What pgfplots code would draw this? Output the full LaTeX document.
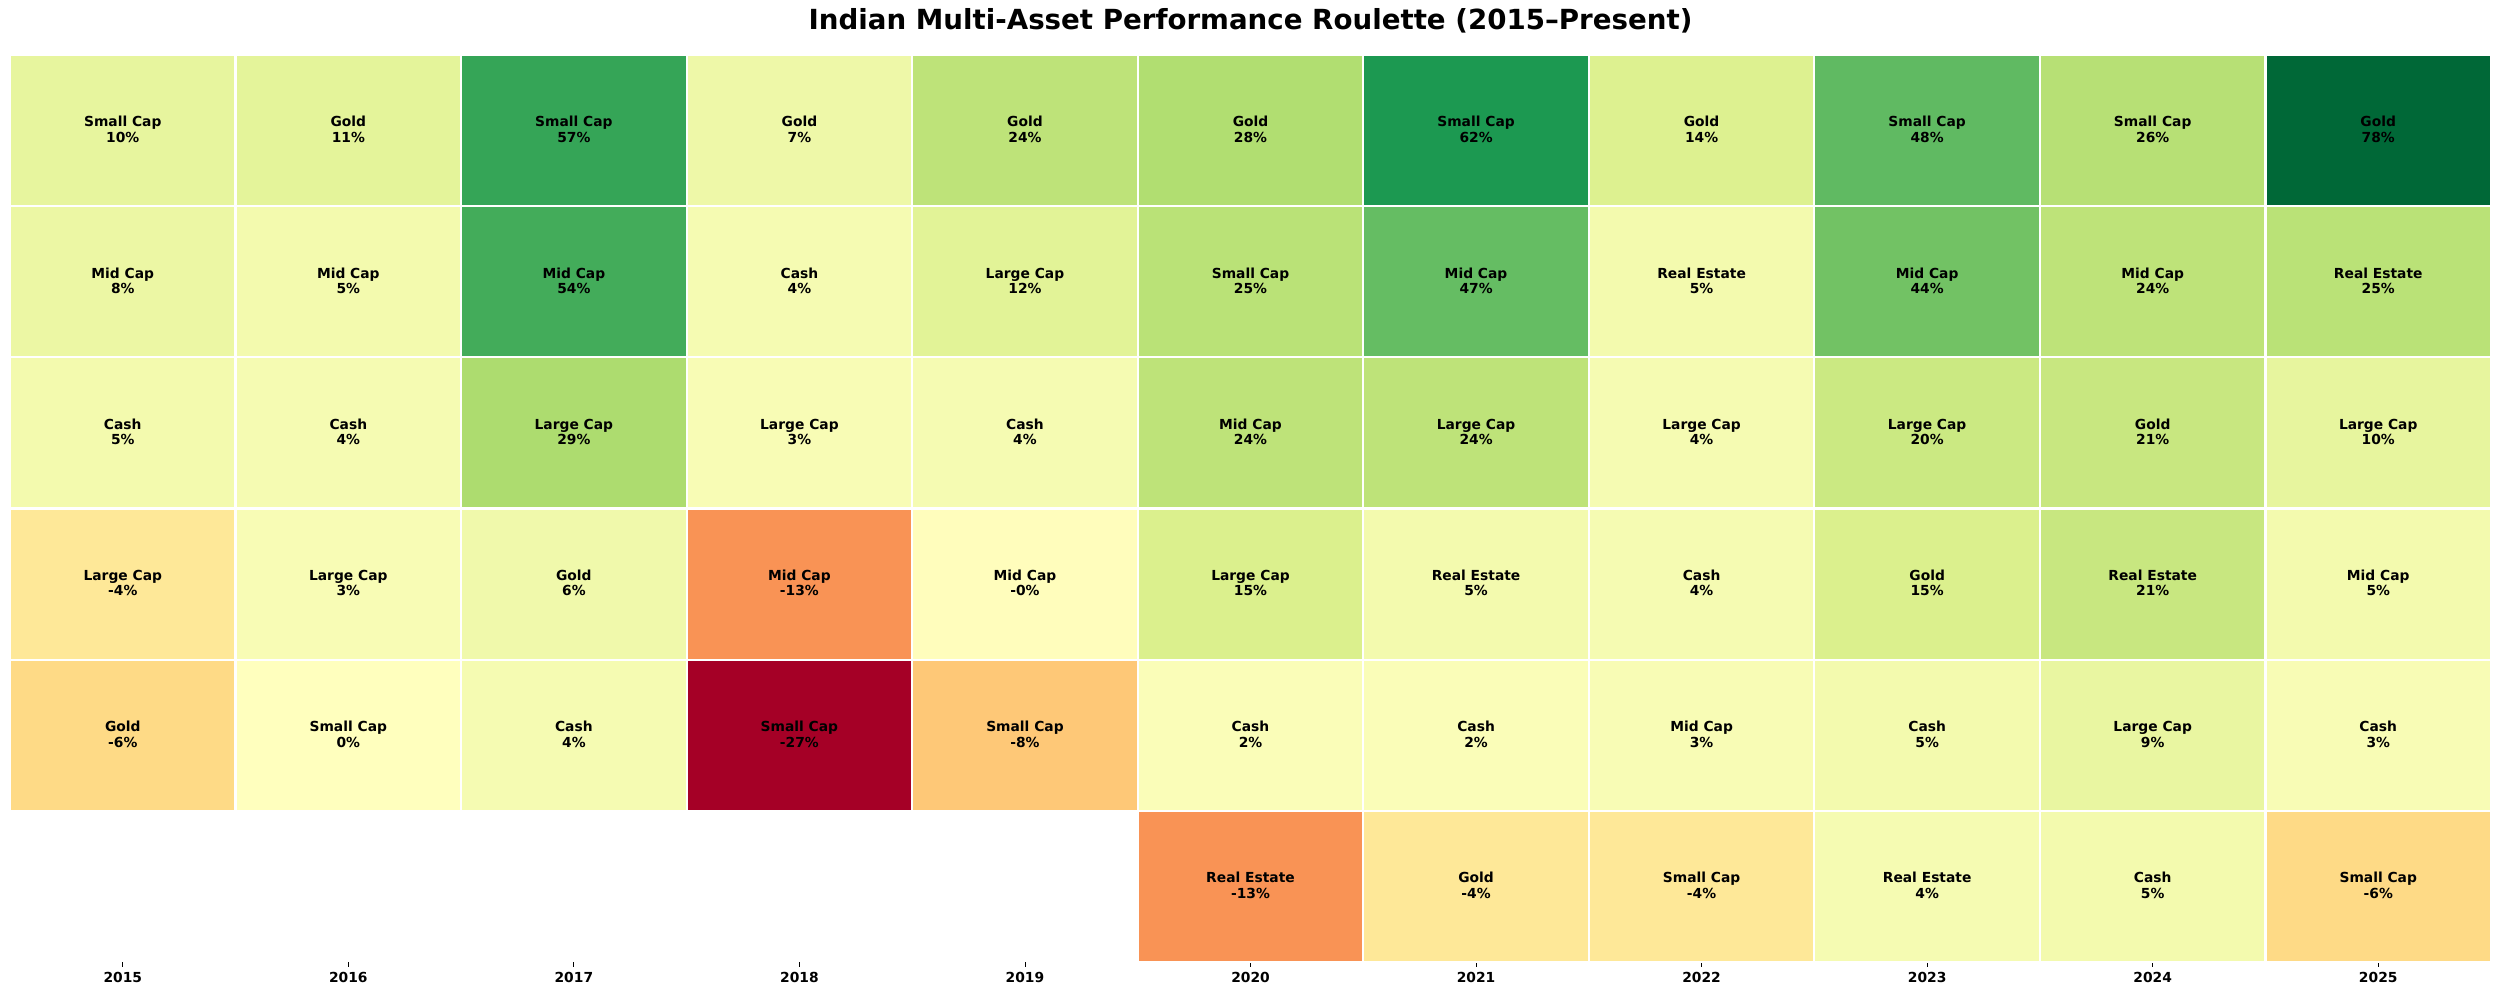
\documentclass[border=0pt]{standalone}
\usepackage{fontspec}
\setmainfont{DejaVu Sans}
\usepackage{pgfplots}
\usepackage{pgfplotstable}
\pgfplotsset{compat=1.18}

\pgfplotsset{
  colormap={rdylgn}{
    rgb255=(165,0,38) rgb255=(215,48,39) rgb255=(244,109,67)
    rgb255=(253,174,97) rgb255=(254,224,139) rgb255=(255,255,191)
    rgb255=(217,239,139) rgb255=(166,217,106) rgb255=(102,189,99)
    rgb255=(26,152,80) rgb255=(0,104,55)}
}

% 2015-2019: five assets ranked per year (x = year index, y = rank)
\pgfplotstableread{
x  y  name          lab  v
0  0  {Small Cap}   10   10
0  1  {Mid Cap}     8    8
0  2  {Cash}        5    5
0  3  {Large Cap}   -4   -4
0  4  {Gold}        -6   -6
1  0  {Gold}        11   11
1  1  {Mid Cap}     5    5
1  2  {Cash}        4    4
1  3  {Large Cap}   3    3
1  4  {Small Cap}   0    0.2
2  0  {Small Cap}   57   57
2  1  {Mid Cap}     54   54
2  2  {Large Cap}   29   29
2  3  {Gold}        6    6
2  4  {Cash}        4    4
3  0  {Gold}        7    7
3  1  {Cash}        4    4
3  2  {Large Cap}   3    3
3  3  {Mid Cap}     -13  -13
3  4  {Small Cap}   -27  -27
4  0  {Gold}        24   24
4  1  {Large Cap}   12   12
4  2  {Cash}        4    4
4  3  {Mid Cap}     -0   -0.3
4  4  {Small Cap}   -8   -8
}\early

% 2020-2025: six assets (Real Estate added)
\pgfplotstableread{
x  y  name          lab  v
5  0  {Gold}        28   28
5  1  {Small Cap}   25   25
5  2  {Mid Cap}     24   24
5  3  {Large Cap}   15   15
5  4  {Cash}        2    2
5  5  {Real Estate} -13  -13
6  0  {Small Cap}   62   62
6  1  {Mid Cap}     47   47
6  2  {Large Cap}   24   24
6  3  {Real Estate} 5    5
6  4  {Cash}        2    2
6  5  {Gold}        -4   -4
7  0  {Gold}        14   14
7  1  {Real Estate} 5    5
7  2  {Large Cap}   4    4
7  3  {Cash}        4    4
7  4  {Mid Cap}     3    3
7  5  {Small Cap}   -4   -4
8  0  {Small Cap}   48   48
8  1  {Mid Cap}     44   44
8  2  {Large Cap}   20   20
8  3  {Gold}        15   15
8  4  {Cash}        5    5
8  5  {Real Estate} 4    4
9  0  {Small Cap}   26   26
9  1  {Mid Cap}     24   24
9  2  {Gold}        21   21
9  3  {Real Estate} 21   21
9  4  {Large Cap}   9    9
9  5  {Cash}        5    5
10 0  {Gold}        78   78
10 1  {Real Estate} 25   25
10 2  {Large Cap}   10   10
10 3  {Mid Cap}     5    5
10 4  {Cash}        3    3
10 5  {Small Cap}   -6   -6
}\late

\pgfplotsset{
  cells/.style={
    matrix plot*, mesh/ordering=y varies,
    shader=faceted, faceted color=white, line width=1.6pt,
    % two-slope colour scale: -27 .. 0 .. 78 split at zero
    point meta={\thisrow{v} < 0 ? 0.5 + 0.5*\thisrow{v}/27 : 0.5 + 0.5*\thisrow{v}/78},
  },
  celltext/.style={
    only marks, mark=none,
    point meta=explicit symbolic,
    every node near coord/.append style={anchor=base, text=black,
        font=\bfseries\fontsize{10}{12}\selectfont},
  },
  names/.style={celltext, nodes near coords,
    every node near coord/.append style={yshift=2.6pt}},
  values/.style={celltext, nodes near coords={\pgfplotspointmeta\%},
    every node near coord/.append style={yshift=-8.6pt}},
}

\begin{document}
\begin{tikzpicture}
\begin{axis}[
    scale only axis,
    width=24.81in, height=9.07in,
    xmin=-0.5, xmax=10.5, ymin=-0.5, ymax=5.5,
    y dir=reverse,
    axis line style={draw=none},
    ytick=\empty,
    xtick={0,...,10},
    xticklabels={\textbf{2015},\textbf{2016},\textbf{2017},\textbf{2018},\textbf{2019},\textbf{2020},\textbf{2021},\textbf{2022},\textbf{2023},\textbf{2024},\textbf{2025}},
    xtick pos=bottom,
    tick align=outside,
    major tick length=3.5pt,
    xtick style={black, line width=0.6pt},
    xticklabel style={font=\bfseries\fontsize{10}{12}\selectfont},
    colormap name=rdylgn,
    point meta min=0, point meta max=1,
    title={Indian Multi-Asset Performance Roulette (2015–Present)},
    title style={font=\bfseries\fontsize{20}{24}\selectfont, at={(0.5,1)}, anchor=center, yshift=0.26in},
    clip=false,
]
\addplot[cells, mesh/cols=5, mesh/rows=5] table[x=x, y=y] {\early};
\addplot[cells, mesh/cols=6, mesh/rows=6] table[x=x, y=y] {\late};
\addplot[names]  table[x=x, y=y, meta=name] {\early};
\addplot[names]  table[x=x, y=y, meta=name] {\late};
\addplot[values] table[x=x, y=y, meta=lab]  {\early};
\addplot[values] table[x=x, y=y, meta=lab]  {\late};
\end{axis}
\path (current axis.south west) ++(-0.10in,-0.33in) (current axis.north east) ++(0.09in,0.55in);
\end{tikzpicture}
\end{document}
